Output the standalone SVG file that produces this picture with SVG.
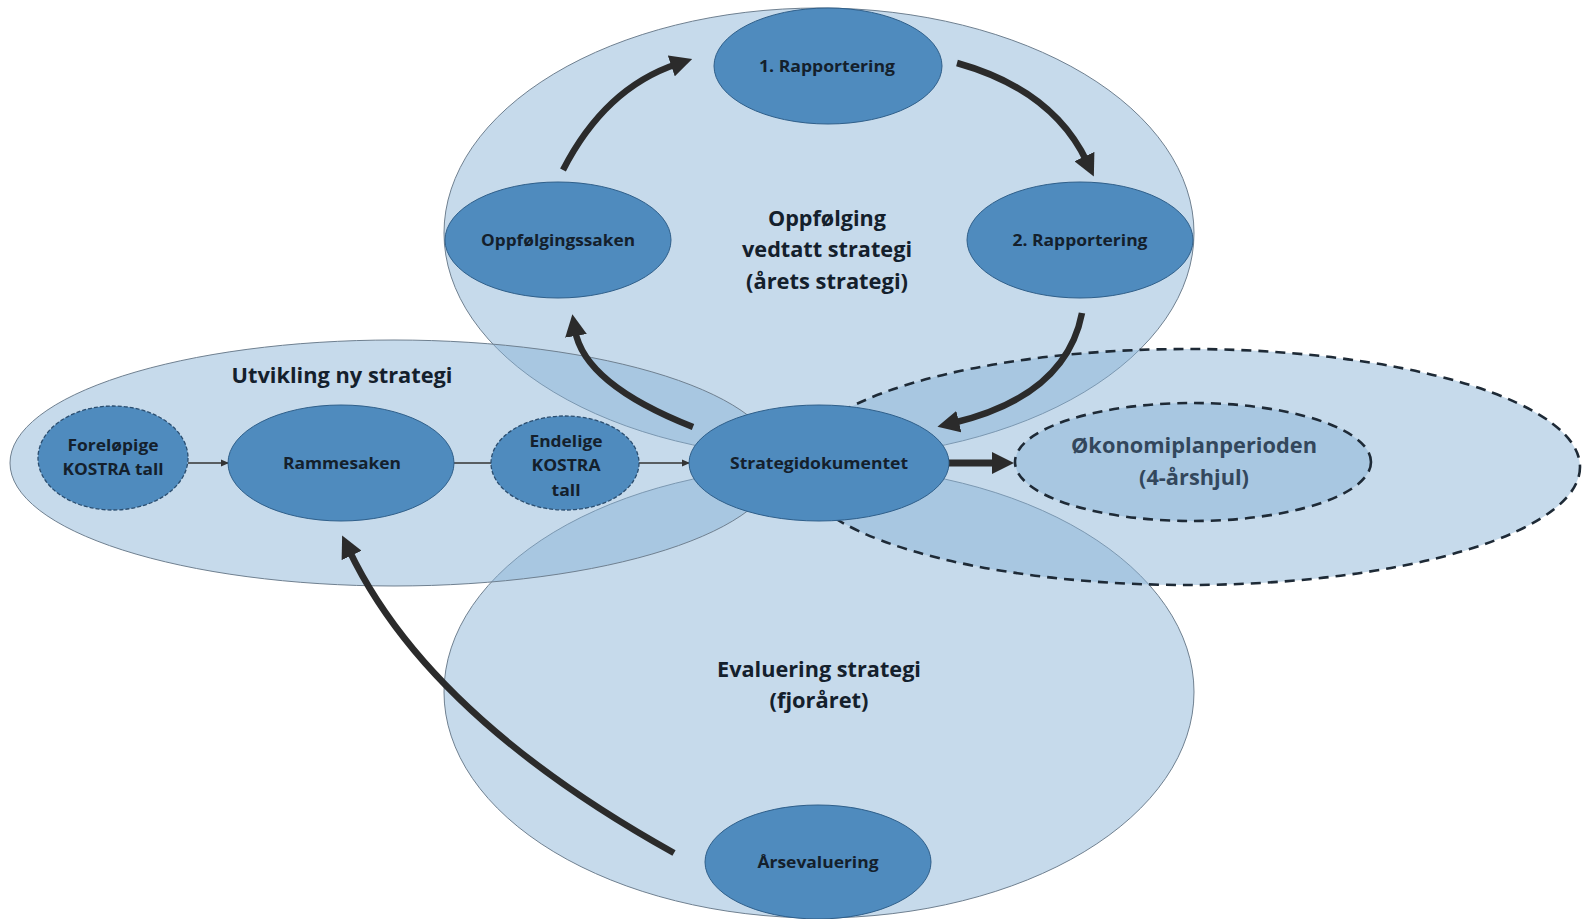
<svg xmlns="http://www.w3.org/2000/svg" width="1583" height="919" viewBox="0 0 1583 919">
<style>
.area{fill:#88b2d6;fill-opacity:0.48;stroke:#6f8090;stroke-width:1}
.dash{stroke:#1e2a36;stroke-width:2.6;stroke-dasharray:10 7}
.node{fill:#4f8bbe;stroke:#2f5f8a;stroke-width:1}
.dnode{fill:#4f8bbe;stroke:#2b4e70;stroke-width:1.3;stroke-dasharray:4 2}
.nt{font-family:"Open Sans","Liberation Sans",sans-serif;font-weight:700;font-size:16px;fill:#14202c;text-anchor:middle}
.tt{font-family:"Open Sans","Liberation Sans",sans-serif;font-weight:700;font-size:21px;fill:#14202c;text-anchor:middle}
.ot{fill:#33475c}
.thick{fill:none;stroke:#2b2b2b;stroke-width:6.5}
.thin{fill:none;stroke:#333;stroke-width:1.3}
</style>
<defs>
<marker id="ah" markerUnits="userSpaceOnUse" viewBox="0 0 22 22" markerWidth="22" markerHeight="22" refX="6" refY="11" orient="auto">
<path d="M0,0 L22,11 L0,22 z" fill="#2b2b2b"/>
</marker>
<marker id="ahs" markerUnits="userSpaceOnUse" viewBox="0 0 8 8" markerWidth="8" markerHeight="8" refX="7" refY="4" orient="auto">
<path d="M0,0.5 L8,4 L0,7.5 z" fill="#333"/>
</marker>
</defs>
<rect width="1583" height="919" fill="#ffffff"/>

<g id="area-oppfolging"><ellipse class="area" cx="819" cy="233" rx="375" ry="225"/></g>
<g id="area-evaluering"><ellipse class="area" cx="819" cy="692" rx="375" ry="226"/></g>
<g id="area-utvikling"><ellipse class="area" cx="394" cy="463" rx="384" ry="123"/></g>
<g id="area-okonomi-outer"><ellipse class="area dash" cx="1188" cy="467" rx="392" ry="118"/></g>

<g id="label-oppfolging">
<text class="tt" x="827" y="226" textLength="118" lengthAdjust="spacingAndGlyphs">Oppfølging</text>
<text class="tt" x="827" y="257" textLength="170" lengthAdjust="spacingAndGlyphs">vedtatt strategi</text>
<text class="tt" x="827" y="289" textLength="162" lengthAdjust="spacingAndGlyphs">(årets strategi)</text>
</g>
<g id="label-utvikling">
<text class="tt" x="342" y="383" textLength="221" lengthAdjust="spacingAndGlyphs">Utvikling ny strategi</text>
</g>
<g id="label-evaluering">
<text class="tt" x="819" y="677" textLength="204" lengthAdjust="spacingAndGlyphs">Evaluering strategi</text>
<text class="tt" x="819" y="708" textLength="99" lengthAdjust="spacingAndGlyphs">(fjoråret)</text>
</g>

<g id="okonomiplanperioden">
<ellipse class="area dash" cx="1193" cy="462" rx="178" ry="59"/>
<text class="tt ot" x="1194" y="453" textLength="246" lengthAdjust="spacingAndGlyphs">Økonomiplanperioden</text>
<text class="tt ot" x="1194" y="485" textLength="110" lengthAdjust="spacingAndGlyphs">(4-årshjul)</text>
</g>

<g id="connectors">
<path class="thick" marker-end="url(#ah)" d="M563,170 Q605,88 677,64"/>
<path class="thick" marker-end="url(#ah)" d="M957,63 Q1053,90 1087,162"/>
<path class="thick" marker-end="url(#ah)" d="M1082,313 Q1066,396 953,423"/>
<path class="thick" marker-end="url(#ah)" d="M693,427 Q584,384 575,330"/>
<path class="thick" marker-end="url(#ah)" d="M674,853 Q428,716 349,550"/>
<path class="thick" style="stroke-width:7" marker-end="url(#ah)" d="M949,463 L998,463"/>
<path class="thin" marker-end="url(#ahs)" d="M188,463 L228,463"/>
<path class="thin" d="M454,463 L491,463"/>
<path class="thin" marker-end="url(#ahs)" d="M639,463 L689,463"/>
</g>

<g id="rapportering1">
<ellipse class="node" cx="828" cy="66" rx="114" ry="58"/>
<text class="nt" x="827" y="72" textLength="136" lengthAdjust="spacingAndGlyphs">1. Rapportering</text>
</g>
<g id="rapportering2">
<ellipse class="node" cx="1080" cy="240" rx="113" ry="58"/>
<text class="nt" x="1080" y="246" textLength="135" lengthAdjust="spacingAndGlyphs">2. Rapportering</text>
</g>
<g id="oppfolgingssaken">
<ellipse class="node" cx="558" cy="240" rx="113" ry="58"/>
<text class="nt" x="558" y="246" textLength="154" lengthAdjust="spacingAndGlyphs">Oppfølgingssaken</text>
</g>
<g id="strategidokumentet">
<ellipse class="node" cx="819" cy="463" rx="130" ry="58"/>
<text class="nt" x="819" y="469" textLength="178" lengthAdjust="spacingAndGlyphs">Strategidokumentet</text>
</g>
<g id="rammesaken">
<ellipse class="node" cx="341" cy="463" rx="113" ry="58"/>
<text class="nt" x="342" y="469" textLength="118" lengthAdjust="spacingAndGlyphs">Rammesaken</text>
</g>
<g id="arsevaluering">
<ellipse class="node" cx="818" cy="862" rx="113" ry="57"/>
<text class="nt" x="818" y="868" textLength="121" lengthAdjust="spacingAndGlyphs">Årsevaluering</text>
</g>
<g id="forelopige-kostra">
<ellipse class="dnode" cx="113" cy="458" rx="75" ry="52"/>
<text class="nt" x="113" y="451" textLength="91" lengthAdjust="spacingAndGlyphs">Foreløpige</text>
<text class="nt" x="113" y="475" textLength="101" lengthAdjust="spacingAndGlyphs">KOSTRA tall</text>
</g>
<g id="endelige-kostra">
<ellipse class="dnode" cx="565" cy="463" rx="74" ry="47"/>
<text class="nt" x="566" y="447" textLength="73" lengthAdjust="spacingAndGlyphs">Endelige</text>
<text class="nt" x="566" y="471" textLength="69" lengthAdjust="spacingAndGlyphs">KOSTRA</text>
<text class="nt" x="566" y="496" textLength="29" lengthAdjust="spacingAndGlyphs">tall</text>
</g>
</svg>
